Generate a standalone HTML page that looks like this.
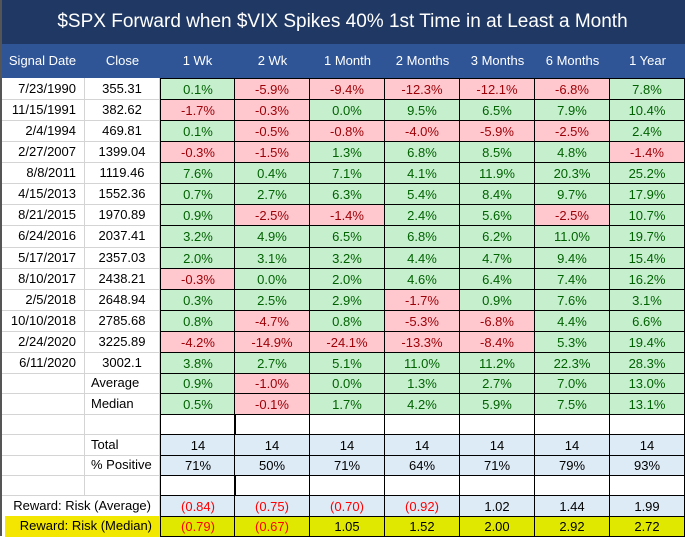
<!DOCTYPE html>
<html><head><meta charset="utf-8">
<style>
body{margin:0;width:685px;height:536px;overflow:hidden;background:#fff;font-family:"Liberation Sans",Calibri,sans-serif;}
#wrap{position:relative;width:685px;height:536px;}
#title{position:absolute;left:0;top:0;width:685px;height:44px;background:#203864;color:#fff;font-size:19px;line-height:44px;text-align:center;}
#hdr{position:absolute;left:0;top:44px;width:685px;height:34px;background:#2f5597;}
.h{position:absolute;top:0;height:34px;line-height:34px;color:#fff;font-size:13px;text-align:center;}
.c{position:absolute;box-sizing:border-box;font-size:13px;text-align:center;color:#000;}
.g{background:#c6efce;color:#006100;}
.r{background:#ffc7ce;color:#9c0006;}
.b{background:#ddebf7;}
.y{background:#e1e800;}
.bd{border:1px solid #000;}
.gl{border-right:1px solid #d4d4d4;border-bottom:1px solid #d4d4d4;}
#leftline{position:absolute;left:0;top:0;width:2px;height:536px;background:#555;}
</style></head><body>
<div id="wrap">
<div id="title">$SPX Forward when $VIX Spikes 40% 1st Time in at Least a Month</div>
<div id="hdr"></div>
<div id="body"></div>
<div id="leftline"></div>
</div>
<script>
const headers=["Signal Date","Close","1 Wk","2 Wk","1 Month","2 Months","3 Months","6 Months","1 Year"];
const dates=["7/23/1990","11/15/1991","2/4/1994","2/27/2007","8/8/2011","4/15/2013","8/21/2015","6/24/2016","5/17/2017","8/10/2017","2/5/2018","10/10/2018","2/24/2020","6/11/2020"];
const closes=["355.31","382.62","469.81","1399.04","1119.46","1552.36","1970.89","2037.41","2357.03","2438.21","2648.94","2785.68","3225.89","3002.1"];
const returns=[
[0.1,-5.9,-9.4,-12.3,-12.1,-6.8,7.8],
[-1.7,-0.3,0.0,9.5,6.5,7.9,10.4],
[0.1,-0.5,-0.8,-4.0,-5.9,-2.5,2.4],
[-0.3,-1.5,1.3,6.8,8.5,4.8,-1.4],
[7.6,0.4,7.1,4.1,11.9,20.3,25.2],
[0.7,2.7,6.3,5.4,8.4,9.7,17.9],
[0.9,-2.5,-1.4,2.4,5.6,-2.5,10.7],
[3.2,4.9,6.5,6.8,6.2,11.0,19.7],
[2.0,3.1,3.2,4.4,4.7,9.4,15.4],
[-0.3,0.0,2.0,4.6,6.4,7.4,16.2],
[0.3,2.5,2.9,-1.7,0.9,7.6,3.1],
[0.8,-4.7,0.8,-5.3,-6.8,4.4,6.6],
[-4.2,-14.9,-24.1,-13.3,-8.4,5.3,19.4],
[3.8,2.7,5.1,11.0,11.2,22.3,28.3]];
const averages=[0.9,-1.0,0.0,1.3,2.7,7.0,13.0];
const medians=[0.5,-0.1,1.7,4.2,5.9,7.5,13.1];
const totals=[14,14,14,14,14,14,14];
const pctPositive=["71%","50%","71%","64%","71%","79%","93%"];
const rrAverage=[-0.84,-0.75,-0.70,-0.92,1.02,1.44,1.99];
const rrMedian=[-0.79,-0.67,1.05,1.52,2.00,2.92,2.72];

const colX=[0,85,160,235,310,385,460,535,610,685];
const hdr=document.getElementById('hdr');
headers.forEach((t,i)=>{const d=document.createElement('div');d.className='h';


d.style.left=colX[i]+'px';d.style.width=(colX[i+1]-colX[i])+'px';d.textContent=t;hdr.appendChild(d);});
const body=document.getElementById('body');
function rowTop(i){return i<14?78+i*21.07:373+(i-14)*20.4;}
function rowH(i){return i<14?21.07:20.4;}
function cell(x,w,row,txt,cls,name,align,color){
 const d=document.createElement('div');d.className='c '+cls;
 
 
 const t=rowTop(row),h=rowH(row);
 d.style.left=x+'px';d.style.width=w+'px';d.style.top=Math.round(t)+'px';d.style.height=(Math.round(t+h)-Math.round(t)+1)+'px';
 d.style.lineHeight=(Math.round(t+h)-Math.round(t))+'px';
 if(align)d.style.textAlign=align;
 if(align==='right')d.style.paddingRight='8px';
 if(align==='left')d.style.paddingLeft='6px';
 if(color)d.style.color=color;
 d.textContent=txt;body.appendChild(d);return d;}
function pct(v){return v.toFixed(1)+'%';}
function rr(v){return v<0?'('+Math.abs(v).toFixed(2)+')':v.toFixed(2);}
function dataCells(row,vals,kind,nm){
 vals.forEach((v,j)=>{const x=colX[j+2]-(j===0?0:1),w=colX[j+3]-colX[j+2]+(j===0?1:1);
  let cls='bd',txt,col=null;
  if(kind==='pct'){cls+=v<0?' r':' g';txt=pct(v);}
  else if(kind==='plain'){cls+=' b';txt=String(v);}
  else if(kind==='rra'){cls+=' b';txt=rr(v);if(v<0)col='#ff0000';}
  else if(kind==='rrm'){cls+=' y';txt=rr(v);if(v<0)col='#ff0000';}
  else {cls+='';txt='';}
  cell(x,w,row,txt,cls,nm+'-'+headers[j+2].toLowerCase().replace(/\s+/g,'-'),null,col);});
}
for(let i=0;i<14;i++){
 cell(0,85,i,dates[i],'gl','signal-date-'+i,'right');
 cell(85,75,i,closes[i],'gl','close-'+i);
 dataCells(i,returns[i],'pct','return-row-'+i);
}
const labels=[[14,'Average'],[15,'Median'],[16,''],[17,'Total'],[18,'% Positive'],[19,'']];
labels.forEach(([r,t])=>{cell(0,85,r,'','gl','label-spacer-'+r);cell(85,75,r,t,'gl','row-label-'+(t||'blank').toLowerCase().replace(/[%\s]+/g,'-'),'left');});
dataCells(14,averages,'pct','average');
dataCells(15,medians,'pct','median');
dataCells(16,averages,'blank','blank-a');
dataCells(17,totals,'plain','total');
dataCells(18,pctPositive,'plain','pct-positive');
dataCells(19,averages,'blank','blank-b');
cell(0,160,20,'Reward:  Risk (Average)','gl','label-reward-risk-average','right');
const ym=cell(0,160,21,'Reward:  Risk (Median)','','label-reward-risk-median','right');
ym.style.background='linear-gradient(to right,#fff 0,#fff 5px,#f4e600 5px,#f0e800 100%)';
dataCells(20,rrAverage,'rra','rr-average');
dataCells(21,rrMedian,'rrm','rr-median');
</script>
</body></html>
